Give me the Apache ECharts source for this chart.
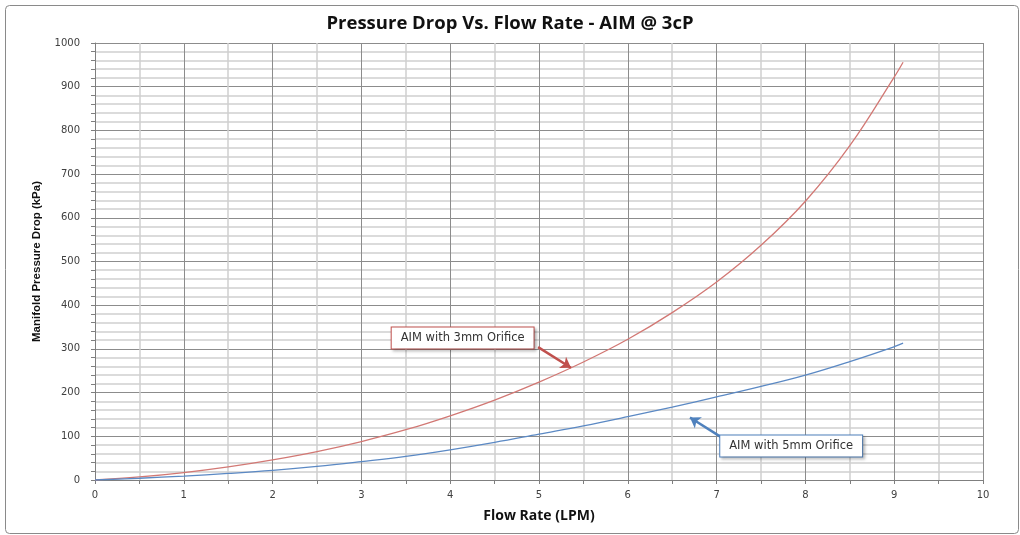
<!DOCTYPE html>
<html>
<head>
<meta charset="utf-8">
<script src="https://cdn.jsdelivr.net/npm/echarts@6/dist/echarts.min.js"></script>
<style>
html,body{margin:0;padding:0;background:#fff;}
#c{width:1020px;height:535px;}
</style>
</head>
<body>
<div id="c"></div>
<script>
const flowRate = [0, 0.5, 1, 1.5, 2, 2.5, 3, 3.5, 4, 4.5, 5, 5.5, 6, 6.5, 7, 7.5, 8, 8.5, 9, 9.1];
const drop3mm = [0, 7, 17, 30, 46, 65, 88, 115, 147, 183, 224, 270, 322, 383, 453, 537, 638, 765, 922, 956];
const drop5mm = [0, 4, 9, 15, 22, 31, 42, 54, 69, 86, 105, 124, 145, 167, 190, 214, 240, 271, 305, 313];
const seriesNames = ['AIM with 3mm Orifice', 'AIM with 5mm Orifice'];
const titleText = 'Pressure Drop Vs. Flow Rate - AIM @ 3cP';
const xName = 'Flow Rate (LPM)';
const yName = 'Manifold Pressure Drop (kPa)';

const red = '#d27874';
const blue = '#5b89c4';
const labelFont = 'DejaVu Sans';

function pairs(xs, ys){ return xs.map((x,i)=>[x, ys[i]]); }

function callout(name, at, border){
  return {
    symbol: 'rect', symbolSize: 0,
    data: [{ coord: at, value: name }],
    label: {
      show: true, position: 'inside', formatter: name,
      fontFamily: labelFont, fontSize: 11.5, color: '#333',
      backgroundColor: '#fff', borderColor: border, borderWidth: 1,
      padding: [5, 9, 4, 9],
      shadowColor: 'rgba(0,0,0,0.25)', shadowBlur: 3, shadowOffsetX: 2, shadowOffsetY: 2
    }
  };
}
function arrow(from, to, color){
  return {
    silent: true, symbol: ['none', 'arrow'], symbolSize: 10,
    lineStyle: { color: color, width: 2.5, type: 'solid' },
    label: { show: false },
    data: [[{ coord: from }, { coord: to }]]
  };
}

const chart = echarts.init(document.getElementById('c'), null, {renderer: 'canvas'});
chart.setOption({
  animation: false,
  backgroundColor: '#fff',
  title: {
    text: titleText, left: 'center', top: 9,
    textStyle: { fontFamily: 'Open Sans', fontWeight: 'bold', fontSize: 18.5, color: '#111' }
  },
  graphic: [{
    type: 'rect', left: 3, top: 3, shape: { width: 1013, height: 528, r: 4 },
    style: { fill: 'none', stroke: '#8a8a8a', lineWidth: 1 }, z: -1, silent: true
  }],
  grid: { left: 95, right: 37, top: 43, bottom: 55 },
  xAxis: {
    type: 'value', min: 0, max: 10, interval: 1,
    name: xName, nameLocation: 'middle', nameGap: 29,
    nameTextStyle: { fontFamily: 'Open Sans', fontWeight: 'bold', fontSize: 14, color: '#111' },
    axisLine: { show: true, lineStyle: { color: '#7f7f7f', width: 1 } },
    axisTick: { show: true, inside: false, length: 4, lineStyle: { color: '#7f7f7f' } },
    minorTick: { show: true, splitNumber: 2, length: 4, lineStyle: { color: '#7f7f7f' } },
    axisLabel: { fontFamily: labelFont, fontSize: 10, color: '#404040', margin: 10 },
    splitLine: { show: true, lineStyle: { color: '#8c8c8c', width: 1 } },
    minorSplitLine: { show: true, lineStyle: { color: '#cfcfcf', width: 1.5 } }
  },
  yAxis: {
    type: 'value', min: 0, max: 1000, interval: 100,
    name: yName, nameLocation: 'middle', nameGap: 52, nameRotate: 90,
    nameTextStyle: { fontFamily: 'Liberation Sans', fontWeight: 'bold', fontSize: 11.5, color: '#111' },
    axisLine: { show: true, lineStyle: { color: '#7f7f7f', width: 1 } },
    axisTick: { show: true, inside: false, length: 4, lineStyle: { color: '#7f7f7f' } },
    minorTick: { show: true, splitNumber: 5, length: 4, lineStyle: { color: '#7f7f7f' } },
    axisLabel: { fontFamily: labelFont, fontSize: 10, color: '#404040', margin: 15, formatter: v => String(v) },
    splitLine: { show: true, lineStyle: { color: '#8c8c8c', width: 1 } },
    minorSplitLine: { show: true, lineStyle: { color: '#cfcfcf', width: 1.5 } }
  },
  series: [
    {
      name: seriesNames[0], type: 'line', smooth: 0.4, showSymbol: false,
      data: pairs(flowRate, drop3mm),
      lineStyle: { color: red, width: 1.3 }, itemStyle: { color: red }, z: 3
    },
    {
      name: seriesNames[1], type: 'line', smooth: 0.4, showSymbol: false,
      data: pairs(flowRate, drop5mm),
      lineStyle: { color: blue, width: 1.3 }, itemStyle: { color: blue }, z: 3
    },
    {
      type: 'line', data: [], z: 5,
      markLine: arrow([4.99, 304], [5.36, 257], '#c0504d'),
      markPoint: callout(seriesNames[0], [4.14, 325], '#c0504d')
    },
    {
      type: 'line', data: [], z: 5,
      markLine: arrow([7.06, 97], [6.7, 143], '#4f81bd'),
      markPoint: callout(seriesNames[1], [7.84, 78], '#4f81bd')
    }
  ]
});
</script>
</body>
</html>
